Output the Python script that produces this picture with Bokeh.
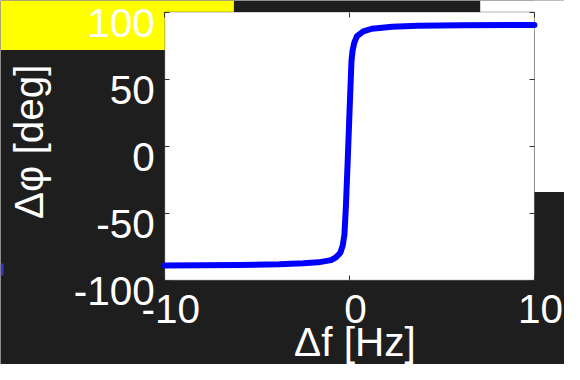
from math import pi
from bokeh.plotting import figure
from bokeh.models import LinearAxis, FixedTicker, BoxAnnotation, Range1d, Label
from bokeh.embed import file_html
from bokeh.resources import INLINE

# ---- data ----
delta_f = [-10, -6, -3.8, -2.5, -1.7, -1.0, -0.74, -0.5, -0.37, -0.28, -0.2, -0.1,
           0.0, 0.1, 0.16, 0.25, 0.4, 0.74, 1.2, 2.3, 3.7, 6, 10]
delta_phi = [-89, -88.6, -88.1, -87.4, -86.7, -85, -83, -79.5, -74, -66, -45, -10,
             27, 63, 71, 77, 82, 85.5, 87.5, 89, 89.8, 90.1, 90.3]
x_lim = (-10, 10)
y_lim = (-100, 100)
x_ticks = [-10, 0, 10]
x_tick_labels = ["-10", "0", "10"]
y_ticks = [-100, -50, 0, 50, 100]
y_tick_labels = ["-100", "-50", "0", "50", "100"]
x_label = "Δf [Hz]"
y_label = "Δφ [deg]"

# ---- layout (canvas pixels) ----
FONT = "Liberation Sans"
FS = "40.5px"
BG = "#1e1e1e"
W, H = 564, 364
BOX_L, BOX_R, BOX_T, BOX_B = 164.3, 533.9, 11.5, 279.7   # axes box
XLAB_DX, YLAB_DY = 6.0, 11.0                             # tick-label offsets

kx = (x_lim[1] - x_lim[0]) / (BOX_R - BOX_L)
ky = (y_lim[1] - y_lim[0]) / (BOX_B - BOX_T)
x0 = x_lim[0] - BOX_L * kx
x1 = x_lim[1] + (W - BOX_R) * kx
y1 = y_lim[1] + BOX_T * ky
y0 = y_lim[0] - (H - BOX_B) * ky

p = figure(width=W, height=H, output_backend="svg", toolbar_location=None,
           title=None, x_range=Range1d(x0, x1), y_range=Range1d(y0, y1),
           x_axis_location=None, y_axis_location=None, min_border=0)
p.extra_x_ranges = {"xlab": Range1d(x0 - XLAB_DX * kx, x1 - XLAB_DX * kx)}
p.extra_y_ranges = {"ylab": Range1d(y0 + YLAB_DY * ky, y1 + YLAB_DY * ky)}
p.border_fill_color = BG
p.background_fill_color = BG
p.outline_line_color = None
p.grid.visible = False


def cbox(l, r, t, b, color):
    return BoxAnnotation(left=l, right=r, top=t, bottom=b,
                         left_units="canvas", right_units="canvas",
                         top_units="canvas", bottom_units="canvas",
                         fill_color=color, fill_alpha=1, line_color=None,
                         level="underlay")


# decorations of the surrounding figure
p.add_layout(cbox(0, 233.4, 0, 49.5, "#ffff00"))
p.add_layout(cbox(479.7, W, 0, BOX_T, "white"))
p.add_layout(cbox(BOX_R, W, 0, 191.6, "white"))
p.add_layout(cbox(0, 3, 263, 275, "#3a3ab8"))

# axes box (white, black frame) spanning the axis limits
p.add_layout(BoxAnnotation(left=x_lim[0], right=x_lim[1], bottom=y_lim[0], top=y_lim[1],
                           fill_color="white", fill_alpha=1, line_color="black",
                           line_width=1, level="underlay"))


def tick_axis(ticks, loc):
    ax = LinearAxis(ticker=FixedTicker(ticks=ticks), fixed_location=loc)
    ax.major_tick_in = 5
    ax.major_tick_out = 0
    ax.minor_tick_line_color = None
    ax.major_tick_line_color = "#333333"
    ax.axis_line_color = None
    ax.major_label_overrides = {t: "" for t in ticks}
    return ax


def label_axis(ticks, labels, loc, standoff, **kw):
    ax = LinearAxis(ticker=FixedTicker(ticks=ticks), fixed_location=loc, **kw)
    ax.major_tick_in = 0
    ax.major_tick_out = 0
    ax.major_tick_line_color = None
    ax.minor_tick_line_color = None
    ax.axis_line_color = None
    ax.major_label_overrides = dict(zip(ticks, labels))
    ax.major_label_standoff = standoff
    ax.major_label_text_font = FONT
    ax.major_label_text_font_size = FS
    ax.major_label_text_color = "white"
    return ax


p.add_layout(tick_axis(y_ticks, x_lim[0]), "left")
p.add_layout(tick_axis(y_ticks, x_lim[1]), "right")
p.add_layout(tick_axis(x_ticks, y_lim[0]), "below")
p.add_layout(tick_axis(x_ticks, y_lim[1]), "above")
p.add_layout(label_axis(y_ticks, y_tick_labels, x_lim[0], 10, y_range_name="ylab"), "left")
p.add_layout(label_axis(x_ticks, x_tick_labels, y_lim[0], 15, x_range_name="xlab"), "below")

# curve
p.line(delta_f, delta_phi, line_color="#0000ff", line_width=6, line_join="round",
       line_cap="round")

# axis titles
p.add_layout(Label(x=x0 + 28 * kx, y=y1 - 141.3 * ky, text=y_label, angle=pi / 2,
                   text_align="center", text_baseline="middle", text_font=FONT,
                   text_font_size=FS, text_color="white"))
p.add_layout(Label(x=x0 + 354.4 * kx, y=y1 - 341 * ky, text=x_label,
                   text_align="center", text_baseline="middle", text_font=FONT,
                   text_font_size=FS, text_color="white"))

open("out.html", "w").write(file_html(p, INLINE))
